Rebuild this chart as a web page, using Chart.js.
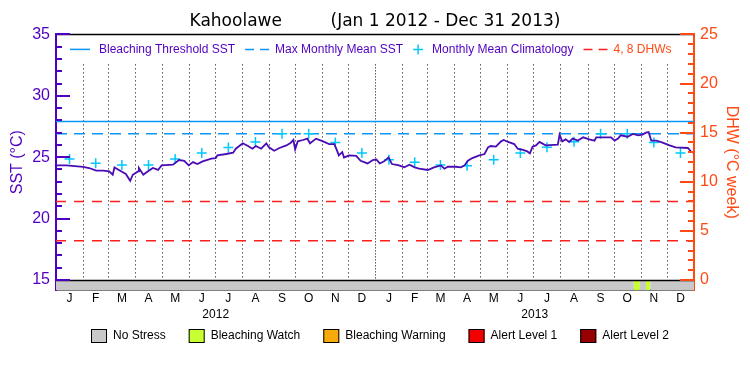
<!DOCTYPE html>
<html>
<head>
<meta charset="utf-8">
<script src="https://cdn.jsdelivr.net/npm/chart.js@4/dist/chart.umd.min.js"></script>
<style>
html,body{margin:0;padding:0;background:#fff;}
#wrap{width:750px;height:375px;position:relative;}
</style>
</head>
<body>
<div id="wrap"><canvas id="c" width="750" height="375"></canvas></div>
<script>
// ---------------- DATA ----------------
const titleText = 'Kahoolawe         (Jan 1 2012 - Dec 31 2013)';
const monthLetters = ['J','F','M','A','M','J','J','A','S','O','N','D'];
const yearLabels = ['2012','2013'];
const monthDays2012 = [31,29,31,30,31,30,31,31,30,31,30,31];
const monthDays2013 = [31,28,31,30,31,30,31,31,30,31,30,31];

// Daily SST (day offset from Jan 1 2012)
const sstDay = [0,12,31,38,46,54,61,65,67,75,80,85,88,94,95,100,105,111,117,121,134,141,147,152,157,162,168,178,183,185,195,203,206,214,220,225,229,235,241,244,250,256,264,269,272,274,277,283,288,291,298,306,313,319,322,324,328,330,336,344,349,357,363,367,371,376,381,385,393,399,405,411,416,426,433,441,445,449,458,464,468,472,477,485,491,495,498,504,510,513,518,525,529,535,540,543,546,550,554,561,575,577,580,584,588,592,598,604,611,617,619,636,640,644,647,655,661,667,672,676,679,682,688,695,703,710,724,728,731];
const sstValue = [24.33,24.33,24.22,24.12,23.90,23.90,23.84,23.57,24.17,23.84,23.63,23.08,23.57,23.84,24.12,23.57,23.84,24.12,23.96,24.33,24.39,24.77,24.70,24.33,24.60,24.44,24.66,24.88,24.93,25.15,25.26,25.37,25.69,26.13,25.91,25.69,25.91,25.69,26.13,25.80,25.53,25.75,25.96,26.18,26.40,25.64,26.29,26.40,26.51,26.13,26.51,26.29,26.07,26.07,25.53,25.15,25.42,24.98,25.15,25.10,24.71,24.49,24.77,24.82,24.49,24.66,24.98,24.44,24.33,24.17,24.39,24.17,24.06,23.96,24.17,24.33,24.06,24.22,24.22,24.17,24.33,24.71,24.93,25.15,25.26,25.80,25.91,25.86,26.29,26.40,26.24,26.07,25.69,25.59,25.47,25.31,25.86,25.96,26.24,25.96,26.02,26.84,26.29,26.45,26.24,26.51,26.35,26.62,26.45,26.35,26.62,26.62,26.35,26.51,26.78,26.67,26.89,26.78,26.84,27.00,27.05,26.35,26.35,26.18,25.96,25.80,25.75,25.42,25.37];

// Monthly mean climatology (one value per month, Jan 2012 .. Dec 2013)
const climValue = [24.85,24.50,24.36,24.36,24.85,25.34,25.78,26.24,26.90,26.90,26.20,25.34,
                   24.80,24.58,24.36,24.30,24.80,25.34,25.80,26.25,26.90,26.90,26.20,25.34];

const bleachingThreshold = 27.9;
const maxMonthlyMean = 26.9;
const dhwLevels = [4, 8];

const sstTicks = [15,16,17,18,19,20,21,22,23,24,25,26,27,28,29,30,31,32,33,34,35];
const dhwTicks = [0,1,2,3,4,5,6,7,8,9,10,11,12,13,14,15,16,17,18,19,20,21,22,23,24,25];

// Stress level periods (day offsets), level index into stressNames
const stressNames = ['No Stress','Bleaching Watch','Bleaching Warning','Alert Level 1','Alert Level 2'];
const stressStart = [0, 662, 669, 676, 681];
const stressEnd   = [662, 669, 676, 681, 731];
const stressLevel = [0, 1, 0, 1, 0];

const seriesNames = {
  sst: 'SST',
  threshold: 'Bleaching Threshold SST',
  mmm: 'Max Monthly Mean SST',
  clim: 'Monthly Mean Climatology',
  dhw: '4, 8 DHWs'
};

// ---------------- STYLE ----------------
const PURPLE = '#5000c0';
const LINE_PURPLE = '#4a0cb4';
const BLUE = '#0a96f5';
const CYAN = '#00c8ff';
const ORANGE = '#ff4a14';
const RED = '#ff1e1e';
const stressColors = ['#c8c8c8','#c8ff32','#faaa0a','#f00000','#960000'];
const FONT = 'Liberation Sans';

const Y_MIN = 14.184, Y_MAX = 35;
const Y2_MIN = -1.0204, Y2_MAX = 25;
const STRIP_Y = (15 + Y_MIN) / 2;

// ---------------- DERIVED ----------------
const monthLengths = monthDays2012.concat(monthDays2013);
const monthStart = [0];
monthLengths.forEach(d => monthStart.push(monthStart[monthStart.length - 1] + d));
const monthMid = monthLengths.map((d, i) => monthStart[i] + d / 2);
const yearStart = [0, monthStart[12], monthStart[24]];
const yearMid = [ (yearStart[0] + yearStart[1]) / 2, (yearStart[1] + yearStart[2]) / 2 ];
const totalDays = monthStart[24];

const stripWidth = (ctx) => {
  const s = ctx.chart.scales.y;
  return Math.abs(s.getPixelForValue(Y_MIN) - s.getPixelForValue(15));
};

const datasets = [];
datasets.push({
  label: seriesNames.sst,
  data: sstDay.map((d, i) => ({x: d, y: sstValue[i]})),
  borderColor: LINE_PURPLE, borderWidth: 1.8, pointRadius: 0, tension: 0, fill: false,
  xAxisID: 'x', yAxisID: 'y'
});
datasets.push({
  label: seriesNames.clim,
  data: climValue.map((v, i) => ({x: monthMid[i], y: v})),
  showLine: false, pointStyle: 'cross', pointRadius: 5, pointBorderWidth: 1.5,
  borderColor: CYAN, backgroundColor: CYAN, xAxisID: 'x', yAxisID: 'y'
});
datasets.push({
  label: seriesNames.threshold,
  data: [{x: 0, y: bleachingThreshold}, {x: totalDays, y: bleachingThreshold}],
  borderColor: BLUE, borderWidth: 1.5, pointRadius: 0, xAxisID: 'x', yAxisID: 'y'
});
datasets.push({
  label: seriesNames.mmm,
  data: [{x: 0, y: maxMonthlyMean}, {x: totalDays, y: maxMonthlyMean}],
  borderColor: BLUE, borderWidth: 1.5, borderDash: [11, 7], pointRadius: 0, xAxisID: 'x', yAxisID: 'y'
});
dhwLevels.forEach(l => datasets.push({
  label: l + ' DHW',
  data: [{x: 0, y: l}, {x: totalDays, y: l}],
  borderColor: RED, borderWidth: 1.5, borderDash: [10, 8], pointRadius: 0, xAxisID: 'x', yAxisID: 'y2'
}));
stressNames.forEach((name, lvl) => {
  const pts = [];
  stressStart.forEach((s, k) => {
    if (stressLevel[k] !== lvl) return;
    pts.push({x: s, y: STRIP_Y}, {x: stressEnd[k], y: STRIP_Y}, {x: stressEnd[k], y: null});
  });
  datasets.push({
    label: name, data: pts, borderColor: stressColors[lvl], backgroundColor: stressColors[lvl],
    borderWidth: stripWidth, borderCapStyle: 'butt', pointRadius: 0, spanGaps: false, fill: false,
    xAxisID: 'x', yAxisID: 'y'
  });
});

// ---------------- PLUGINS ----------------
const decorPlugin = {
  id: 'decor',
  beforeDatasetsDraw(chart) {
    const {ctx, chartArea: ca, scales} = chart;
    const x = scales.x, y = scales.y;
    const y15 = y.getPixelForValue(15);
    ctx.save();
    ctx.strokeStyle = '#000';
    ctx.lineWidth = 1;
    for (let i = 1; i < monthStart.length - 1; i++) {
      const px = Math.round(x.getPixelForValue(monthStart[i])) + 0.5;
      ctx.setLineDash(i === 12 ? [1, 2] : [1, 3]);
      ctx.beginPath();
      ctx.moveTo(px, ca.top + 30);
      ctx.lineTo(px, y15);
      ctx.stroke();
    }
    ctx.restore();
  },
  afterDatasetsDraw(chart) {
    const {ctx, chartArea: ca, scales} = chart;
    const y = scales.y, y2 = scales.y2;
    const y15 = Math.round(y.getPixelForValue(15)) + 0.5;
    ctx.save();
    // top frame + strip top line
    ctx.strokeStyle = '#000';
    ctx.lineWidth = 1.5;
    ctx.beginPath();
    ctx.moveTo(ca.left, ca.top); ctx.lineTo(ca.right, ca.top);
    ctx.moveTo(ca.left, y15); ctx.lineTo(ca.right, y15);
    ctx.stroke();
    // inner ticks
    ctx.lineWidth = 2;
    ctx.strokeStyle = PURPLE;
    y.ticks.forEach(t => {
      const py = Math.round(y.getPixelForValue(t.value));
      const len = t.value % 5 === 0 ? 14 : 6;
      ctx.beginPath(); ctx.moveTo(ca.left, py); ctx.lineTo(ca.left + len, py); ctx.stroke();
    });
    ctx.strokeStyle = ORANGE;
    y2.ticks.forEach(t => {
      const py = Math.round(y2.getPixelForValue(t.value));
      const len = t.value % 5 === 0 ? 14 : 6;
      ctx.beginPath(); ctx.moveTo(ca.right, py); ctx.lineTo(ca.right - len, py); ctx.stroke();
    });
    // top legend (inside plot)
    const items = [
      {text: seriesNames.threshold, kind: 'line', color: BLUE, tc: PURPLE},
      {text: seriesNames.mmm, kind: 'dash', color: BLUE, tc: PURPLE},
      {text: seriesNames.clim, kind: 'cross', color: CYAN, tc: PURPLE},
      {text: seriesNames.dhw, kind: 'dash', color: RED, tc: ORANGE}
    ];
    const ly = ca.top + 15;
    let lx = ca.left + 14;
    ctx.font = '12px "' + FONT + '"';
    ctx.textBaseline = 'middle';
    ctx.textAlign = 'left';
    items.forEach(it => {
      ctx.strokeStyle = it.color;
      ctx.lineWidth = 1.5;
      let tx;
      ctx.beginPath();
      if (it.kind === 'line') {
        ctx.moveTo(lx, ly); ctx.lineTo(lx + 20, ly); tx = lx + 29;
      } else if (it.kind === 'dash') {
        ctx.moveTo(lx, ly); ctx.lineTo(lx + 9, ly);
        ctx.moveTo(lx + 15, ly); ctx.lineTo(lx + 24, ly); tx = lx + 30;
      } else {
        ctx.moveTo(lx, ly); ctx.lineTo(lx + 10, ly);
        ctx.moveTo(lx + 5, ly - 5); ctx.lineTo(lx + 5, ly + 5); tx = lx + 19;
      }
      ctx.stroke();
      ctx.fillStyle = it.tc;
      ctx.fillText(it.text, tx, ly);
      lx = tx + ctx.measureText(it.text).width + 10;
    });
    ctx.restore();
  },
  afterDraw(chart) {
    // stress-level legend below the axes
    const {ctx, chartArea: ca} = chart;
    ctx.save();
    ctx.font = '12px "' + FONT + '"';
    ctx.textBaseline = 'middle';
    ctx.textAlign = 'left';
    const boxW = 16, boxH = 14, gap = 6, sep = 23;
    const widths = stressNames.map(n => boxW + gap + ctx.measureText(n).width);
    const total = widths.reduce((a, b) => a + b, 0) + sep * (widths.length - 1);
    let x = Math.round(chart.width / 2 + 5 - total / 2);
    const top = Math.round(ca.bottom + 39);
    stressNames.forEach((n, i) => {
      ctx.fillStyle = stressColors[i];
      ctx.fillRect(x, top, boxW, boxH);
      ctx.strokeStyle = '#000';
      ctx.lineWidth = 1;
      ctx.strokeRect(x + 0.5, top + 0.5, boxW - 1, boxH - 1);
      ctx.fillStyle = '#000';
      ctx.fillText(n, x + boxW + gap, top + boxH / 2);
      x += widths[i] + sep;
    });
    ctx.restore();
  }
};

// ---------------- CHART ----------------
new Chart(document.getElementById('c'), {
  type: 'line',
  data: { datasets },
  options: {
    responsive: false, animation: false, devicePixelRatio: 1, events: [],
    layout: { padding: { left: 0, right: 0, top: 0, bottom: 51 } },
    plugins: {
      title: { display: true, text: titleText, color: '#000',
               font: { family: 'DejaVu Sans', size: 17, weight: 'normal' },
               padding: { top: 11, bottom: 3 } },
      tooltip: { enabled: false },
      legend: { display: false }
    },
    scales: {
      x: {
        type: 'linear', position: 'bottom', min: 0, max: totalDays,
        grid: { display: false, drawTicks: false },
        border: { display: true, color: '#000', width: 1.5 },
        ticks: { autoSkip: false, maxRotation: 0, color: '#000', padding: 1,
                 font: { family: FONT, size: 12 },
                 callback: (v, i) => monthLetters[i % 12] },
        afterBuildTicks: s => { s.ticks = monthMid.map(v => ({value: v})); },
        afterFit: s => { s.height = 16; }
      },
      x2: {
        type: 'linear', position: 'bottom', min: 0, max: totalDays,
        grid: { display: false, drawTicks: false },
        border: { display: false },
        ticks: { autoSkip: false, maxRotation: 0, color: '#000', padding: 1,
                 font: { family: FONT, size: 12 },
                 callback: (v, i) => yearLabels[i] },
        afterBuildTicks: s => { s.ticks = yearMid.map(v => ({value: v})); },
        afterFit: s => { s.height = 18; }
      },
      y: {
        type: 'linear', position: 'left', min: Y_MIN, max: Y_MAX,
        grid: { display: false, drawTicks: false },
        border: { display: true, color: PURPLE, width: 2 },
        ticks: { autoSkip: false, color: PURPLE, padding: 6,
                 font: { family: FONT, size: 16 },
                 callback: v => (v % 5 === 0 ? String(v) : '') },
        afterBuildTicks: s => { s.ticks = sstTicks.map(v => ({value: v})); },
        afterFit: s => { s.width = 56; },
        title: { display: true, text: 'SST (°C)', color: PURPLE,
                 font: { family: FONT, size: 16 }, padding: { top: 8, bottom: 0 } }
      },
      y2: {
        type: 'linear', position: 'right', min: Y2_MIN, max: Y2_MAX,
        grid: { display: false, drawTicks: false },
        border: { display: true, color: ORANGE, width: 2 },
        ticks: { autoSkip: false, color: ORANGE, padding: 6,
                 font: { family: FONT, size: 16 },
                 callback: v => (v % 5 === 0 ? String(v) : '') },
        afterBuildTicks: s => { s.ticks = dhwTicks.map(v => ({value: v})); },
        afterFit: s => { s.width = 56; },
        title: { display: true, text: 'DHW (°C week)', color: ORANGE,
                 font: { family: FONT, size: 16 }, padding: { top: 9, bottom: 0 } }
      }
    }
  },
  plugins: [decorPlugin]
});
</script>
</body>
</html>
